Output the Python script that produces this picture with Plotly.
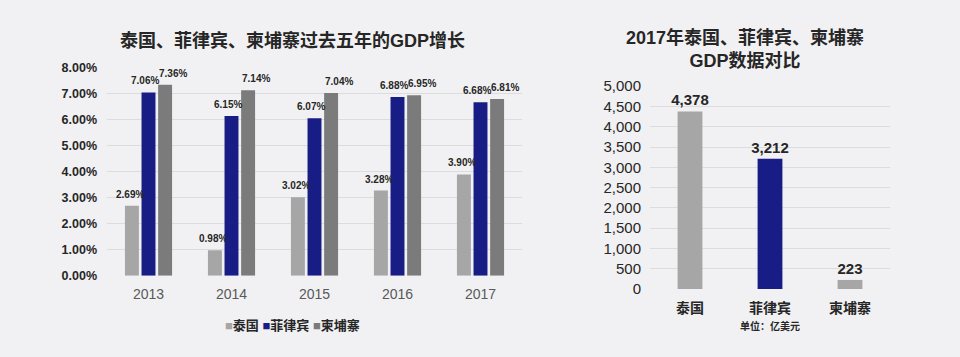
import plotly.graph_objects as go

# ---------------- data ----------------
years = ["2013", "2014", "2015", "2016", "2017"]
thailand_growth = [2.69, 0.98, 3.02, 3.28, 3.90]
philippines_growth = [7.06, 6.15, 6.07, 6.88, 6.68]
cambodia_growth = [7.36, 7.14, 7.04, 6.95, 6.81]
series_names = ["泰国", "菲律宾", "柬埔寨"]

countries = ["泰国", "菲律宾", "柬埔寨"]
gdp_2017 = [4378, 3212, 223]

left_title = "泰国、菲律宾、柬埔寨过去五年的GDP增长"
right_title = "2017年泰国、菲律宾、柬埔寨<br>GDP数据对比"
unit_note = "单位：亿美元"

# ---------------- style ----------------
FONT = "Liberation Sans, Arial, Noto Sans CJK SC, sans-serif"
LIGHT = "#a6a6a6"
NAVY = "#181d86"
DARK = "#7b7b7b"
BG = "#f1f1f3"
GRID = "#dcdcdc"
TXT = "#262626"
series_colors = [LIGHT, NAVY, DARK]
label_xshift = [-19, -4, 24]   # px offsets of the value labels for each series

fig = go.Figure()
annotations = []

for name, vals, col, xs in zip(series_names,
                               [thailand_growth, philippines_growth, cambodia_growth],
                               series_colors, label_xshift):
    fig.add_trace(go.Bar(
        x=years, y=vals, name=name, marker=dict(color=col, line=dict(width=0)),
        xaxis="x", yaxis="y", showlegend=False, hoverinfo="x+y+name",
    ))
    # value labels: placed at the category position of each year on the x axis
    for idx, v in enumerate(vals):
        annotations.append(dict(
            x=idx, y=v, xref="x", yref="y", text=f"{v:.2f}%", showarrow=False,
            xanchor="center", yanchor="bottom", xshift=xs, yshift=4,
            font=dict(size=10, color=TXT, weight="bold"),
        ))

fig.add_trace(go.Bar(
    x=countries, y=gdp_2017, width=0.31,
    marker=dict(color=[LIGHT, NAVY, LIGHT], line=dict(width=0)),
    text=[f"{v:,}" for v in gdp_2017], textposition="outside",
    textfont=dict(family=FONT, size=15, color=TXT, weight="bold"),
    constraintext="none", cliponaxis=False, showlegend=False,
    xaxis="x2", yaxis="y2",
))

# legend row (coloured squares + names), built from the series names/colours
legend_text = " ".join(
    f"<span style='color:{c}'>■</span>{n}" for n, c in zip(series_names, series_colors)
)
annotations += [
    dict(text=legend_text, x=292/960, y=(357-332)/357, xref="paper", yref="paper",
         xanchor="center", yanchor="middle", showarrow=False,
         font=dict(size=13, color=TXT, weight="bold")),
    dict(text=left_title, x=292/960, y=(357-33)/357, xref="paper", yref="paper",
         xanchor="center", yanchor="middle", showarrow=False,
         font=dict(size=18, color=TXT, weight="bold")),
    dict(text=right_title, x=745/960, y=(357-42)/357, xref="paper", yref="paper",
         xanchor="center", yanchor="middle", showarrow=False,
         font=dict(size=18, color=TXT, weight="bold")),
    dict(text=unit_note, x=770/960, y=(357-333)/357, xref="paper", yref="paper",
         xanchor="center", yanchor="middle", showarrow=False,
         font=dict(size=10, color=TXT, weight="bold")),
]

fig.update_layout(
    width=960, height=357,
    margin=dict(l=0, r=0, t=0, b=0),
    paper_bgcolor=BG, plot_bgcolor=BG,
    barmode="group", bargap=0.4, bargroupgap=0.16,
    font=dict(family=FONT, color=TXT),
    showlegend=False,
    xaxis=dict(type="category", categoryorder="array", categoryarray=years,
               range=[-0.5, len(years) - 0.5], autorange=False,
               domain=[107/960, 522/960], anchor="y", showgrid=False,
               showline=False, ticks="", ticklabelstandoff=8,
               tickfont=dict(size=14, color="#595959")),
    yaxis=dict(domain=[(357-280)/357, (357-62)/357], anchor="x",
               range=[0, 8], dtick=1, tickformat=".2f", ticksuffix="%",
               showgrid=True, gridcolor=GRID, gridwidth=1, zeroline=False,
               showline=False, ticklabelstandoff=9,
               tickfont=dict(size=12.5, color=TXT, weight="bold")),
    xaxis2=dict(type="category", domain=[650/960, 890/960], anchor="y2", showgrid=False,
                showline=False, ticks="", ticklabelstandoff=9,
                tickfont=dict(size=14, color=TXT, weight="bold")),
    yaxis2=dict(domain=[(357-294)/357, (357-81)/357], anchor="x2",
                range=[0, 5000], dtick=500, tickformat=",d",
                showgrid=True, gridcolor=GRID, gridwidth=1, zeroline=False,
                showline=False, ticklabelstandoff=8,
                tickfont=dict(size=15, color=TXT)),
    annotations=annotations,
)

fig.write_html(
    "out.html",
    config={"displayModeBar": False},
    post_script="document.body.style.margin='0';document.body.style.overflow='hidden';",
)
